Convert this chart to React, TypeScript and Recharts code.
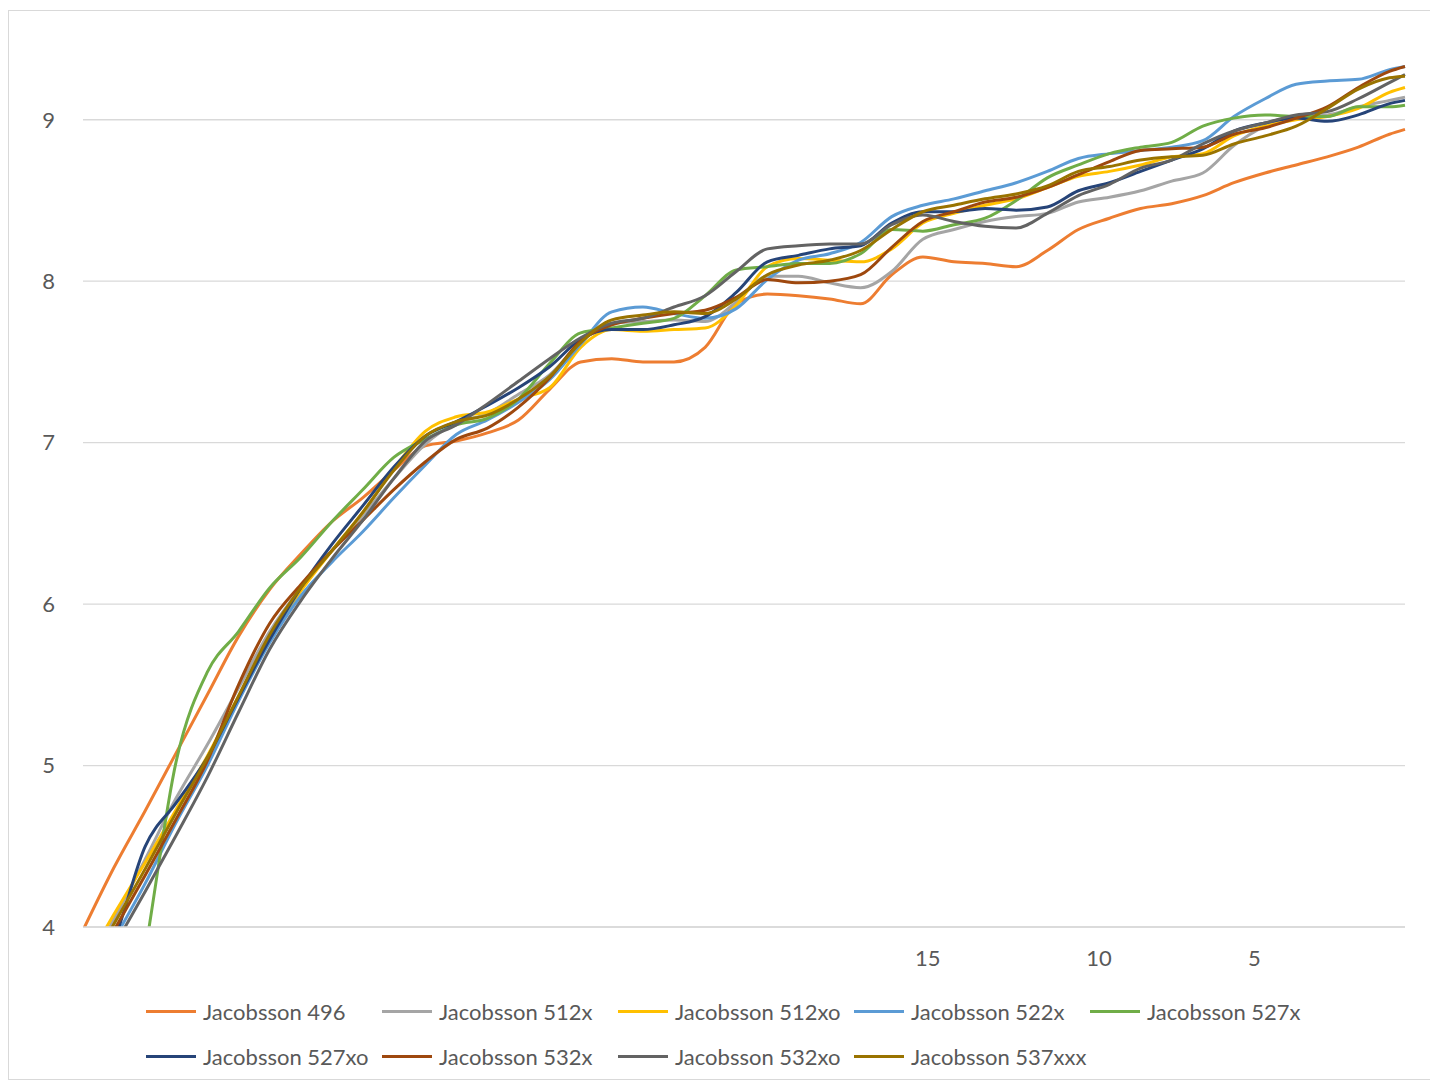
import { LineChart, Line, XAxis, YAxis, CartesianGrid, Legend } from 'recharts'

// ─── data ─────────────────────────────────────────────────────────────
// category positions along the x axis (0..85), sampled every 2nd category
const positions = [
  0, 2, 4, 6, 8, 10, 12, 14, 16, 18, 20, 22, 24, 26, 28, 30, 32, 34, 36, 38, 40, 42,
  44, 46, 48, 50, 52, 54, 56, 58, 60, 62, 64, 66, 68, 70, 72, 74, 76, 78, 80, 82, 84, 85,
]

const xTicks = [54, 65, 75]
const xTickLabels = ['15', '10', '5']
const yTicks = [4, 5, 6, 7, 8, 9]

const jacobsson496 = [
  3.98, 4.37, 4.72, 5.08, 5.44, 5.8, 6.09, 6.31, 6.51, 6.66, 6.83, 6.98, 7.01, 7.06, 7.14, 7.33, 7.5, 7.52, 7.5, 7.5, 7.59, 7.86,
  7.92, 7.91, 7.89, 7.86, 8.04, 8.15, 8.12, 8.11, 8.09, 8.19, 8.32, 8.39, 8.45, 8.48, 8.53, 8.61, 8.67, 8.72, 8.77, 8.83, 8.91, 8.94,
]
const jacobsson512x = [
  3.7, 4.05, 4.42, 4.8, 5.13, 5.48, 5.83, 6.1, 6.33, 6.55, 6.78, 6.99, 7.12, 7.18, 7.3, 7.42, 7.62, 7.74, 7.75, 7.76, 7.75, 7.87,
  8.03, 8.03, 7.99, 7.96, 8.06, 8.26, 8.32, 8.37, 8.4, 8.42, 8.49, 8.52, 8.56, 8.62, 8.67, 8.84, 8.96, 9.02, 9.03, 9.08, 9.12, 9.14,
]
const jacobsson512xo = [
  3.75, 4.08, 4.4, 4.73, 5.06, 5.43, 5.79, 6.08, 6.33, 6.57, 6.84, 7.07, 7.16, 7.19, 7.27, 7.34, 7.59, 7.7, 7.69, 7.7, 7.71, 7.85,
  8.09, 8.14, 8.13, 8.12, 8.2, 8.36, 8.42, 8.47, 8.51, 8.58, 8.65, 8.68, 8.72, 8.77, 8.79, 8.9, 8.96, 9.0, 9.02, 9.07, 9.17, 9.2,
]
const jacobsson522x = [
  3.55, 3.92, 4.27, 4.65, 5.0, 5.4, 5.76, 6.05, 6.26, 6.45, 6.66, 6.86, 7.05, 7.14, 7.25, 7.39, 7.61, 7.81, 7.84, 7.8, 7.77, 7.83,
  8.01, 8.13, 8.17, 8.24, 8.4, 8.47, 8.51, 8.56, 8.61, 8.68, 8.76, 8.79, 8.81, 8.83, 8.87, 9.02, 9.13, 9.22, 9.24, 9.25, 9.31, 9.33,
]
const jacobsson527x = [
  1.6, 2.75, 3.85, 5.03, 5.58, 5.83, 6.1, 6.29, 6.51, 6.71, 6.91, 7.02, 7.11, 7.15, 7.27, 7.49, 7.68, 7.71, 7.74, 7.77, 7.91, 8.07,
  8.09, 8.11, 8.11, 8.17, 8.32, 8.31, 8.35, 8.39, 8.5, 8.64, 8.72, 8.79, 8.83, 8.86, 8.96, 9.01, 9.03, 9.02, 9.02, 9.08, 9.08, 9.09,
]
const jacobsson527xo = [
  3.6, 3.92, 4.5, 4.77, 5.05, 5.42, 5.78, 6.1, 6.37, 6.61, 6.85, 7.04, 7.13, 7.23, 7.34, 7.47, 7.64, 7.7, 7.7, 7.73, 7.78, 7.93,
  8.12, 8.16, 8.2, 8.22, 8.36, 8.43, 8.43, 8.45, 8.44, 8.46, 8.56, 8.61, 8.68, 8.75, 8.82, 8.93, 8.98, 9.01, 8.99, 9.03, 9.1, 9.12,
]
const jacobsson532x = [
  3.65, 3.98, 4.32, 4.67, 5.03, 5.5, 5.88, 6.12, 6.33, 6.52, 6.71, 6.88, 7.02, 7.09, 7.22, 7.4, 7.63, 7.73, 7.77, 7.8, 7.82, 7.9,
  8.01, 7.99, 8.0, 8.04, 8.21, 8.37, 8.43, 8.49, 8.52, 8.58, 8.66, 8.74, 8.81, 8.82, 8.83, 8.91, 8.95, 9.01, 9.08, 9.2, 9.3, 9.33,
]
const jacobsson532xo = [
  3.55, 3.88, 4.22, 4.57, 4.93, 5.33, 5.72, 6.02, 6.28, 6.52, 6.78, 7.01, 7.11, 7.24, 7.38, 7.52, 7.65, 7.74, 7.77, 7.84, 7.91, 8.06,
  8.2, 8.22, 8.23, 8.23, 8.35, 8.41, 8.37, 8.34, 8.33, 8.42, 8.53, 8.6, 8.7, 8.75, 8.85, 8.93, 8.98, 9.03, 9.05, 9.13, 9.23, 9.28,
]
const jacobsson537xxx = [
  3.68, 4.02, 4.36, 4.71, 5.05, 5.43, 5.81, 6.1, 6.33, 6.57, 6.83, 7.04, 7.13, 7.17, 7.27, 7.41, 7.62, 7.76, 7.79, 7.81, 7.8, 7.89,
  8.04, 8.1, 8.13, 8.19, 8.32, 8.43, 8.47, 8.51, 8.54, 8.59, 8.68, 8.71, 8.75, 8.77, 8.78, 8.85, 8.9, 8.96, 9.07, 9.19, 9.26, 9.27,
]

const seriesList = [
  { key: 's496', name: 'Jacobsson 496', color: '#ED7D31', values: jacobsson496 },
  { key: 's512x', name: 'Jacobsson 512x', color: '#A5A5A5', values: jacobsson512x },
  { key: 's512xo', name: 'Jacobsson 512xo', color: '#FFC000', values: jacobsson512xo },
  { key: 's522x', name: 'Jacobsson 522x', color: '#5B9BD5', values: jacobsson522x },
  { key: 's527x', name: 'Jacobsson 527x', color: '#70AD47', values: jacobsson527x },
  { key: 's527xo', name: 'Jacobsson 527xo', color: '#264478', values: jacobsson527xo },
  { key: 's532x', name: 'Jacobsson 532x', color: '#9E480E', values: jacobsson532x },
  { key: 's532xo', name: 'Jacobsson 532xo', color: '#636363', values: jacobsson532xo },
  { key: 's537xxx', name: 'Jacobsson 537xxx', color: '#997300', values: jacobsson537xxx },
]

const data = positions.map((pos, i) => {
  const row: Record<string, number> = { pos }
  seriesList.forEach((s) => { row[s.key] = s.values[i] })
  return row
})

// ─── styling ──────────────────────────────────────────────────────────
const FONT = 'Lato, "Open Sans", sans-serif'
const TEXT = '#595959'
const GRID = '#D9D9D9'

function xLabel(v: number) {
  const i = xTicks.indexOf(v)
  return i === -1 ? '' : xTickLabels[i]
}

function LegendBox({ payload }: { payload?: { value: string; color: string }[] }) {
  if (!payload?.length) return null
  return (
    <div style={{ display: 'flex', flexWrap: 'wrap', width: 1180, fontFamily: FONT, fontSize: 22, color: TEXT }}>
      {payload.map((p) => (
        <div key={p.value} style={{ width: 236, height: 45, display: 'flex', alignItems: 'center' }}>
          <span style={{ display: 'inline-block', width: 50, height: 3, background: p.color, marginRight: 7 }} />
          <span>{p.value}</span>
        </div>
      ))}
    </div>
  )
}

export default function App() {
  return (
    <>
      <style>{'html,body{overflow:hidden}'}</style>
      <div
        style={{
          marginTop: 2,
          width: 1430,
          height: 1070,
          border: `1px solid ${GRID}`,
          boxSizing: 'border-box',
          position: 'relative',
          overflow: 'hidden',
        }}
      >
        <LineChart width={1430} height={1068} data={data} margin={{ top: 28, right: 34, bottom: 92, left: 0 }}>
          <CartesianGrid vertical={false} horizontalValues={yTicks} stroke={GRID} strokeWidth={1.3} />
          <XAxis
            dataKey="pos"
            type="number"
            domain={[0, 85]}
            ticks={xTicks}
            interval={0}
            tickFormatter={xLabel}
            axisLine={{ stroke: GRID, strokeWidth: 1.3 }}
            tickLine={false}
            tickSize={0}
            tickMargin={23}
            height={60}
            tick={{ fill: TEXT, fontSize: 22, fontFamily: FONT, dx: 5 }}
          />
          <YAxis
            type="number"
            domain={[4, 9.5]}
            ticks={yTicks}
            allowDataOverflow
            axisLine={false}
            tickLine={false}
            tickSize={0}
            tickMargin={28}
            width={74}
            tick={{ fill: TEXT, fontSize: 22, fontFamily: FONT }}
          />
          <Legend
            layout="horizontal"
            verticalAlign="middle"
            align="center"
            content={<LegendBox />}
            wrapperStyle={{ position: 'absolute', top: 978, left: 137, width: 1180 }}
          />
          {seriesList.map((s) => (
            <Line
              key={s.key}
              type="monotone"
              dataKey={s.key}
              name={s.name}
              stroke={s.color}
              strokeWidth={3}
              dot={false}
              activeDot={false}
              isAnimationActive={false}
            />
          ))}
        </LineChart>
      </div>
    </>
  )
}
